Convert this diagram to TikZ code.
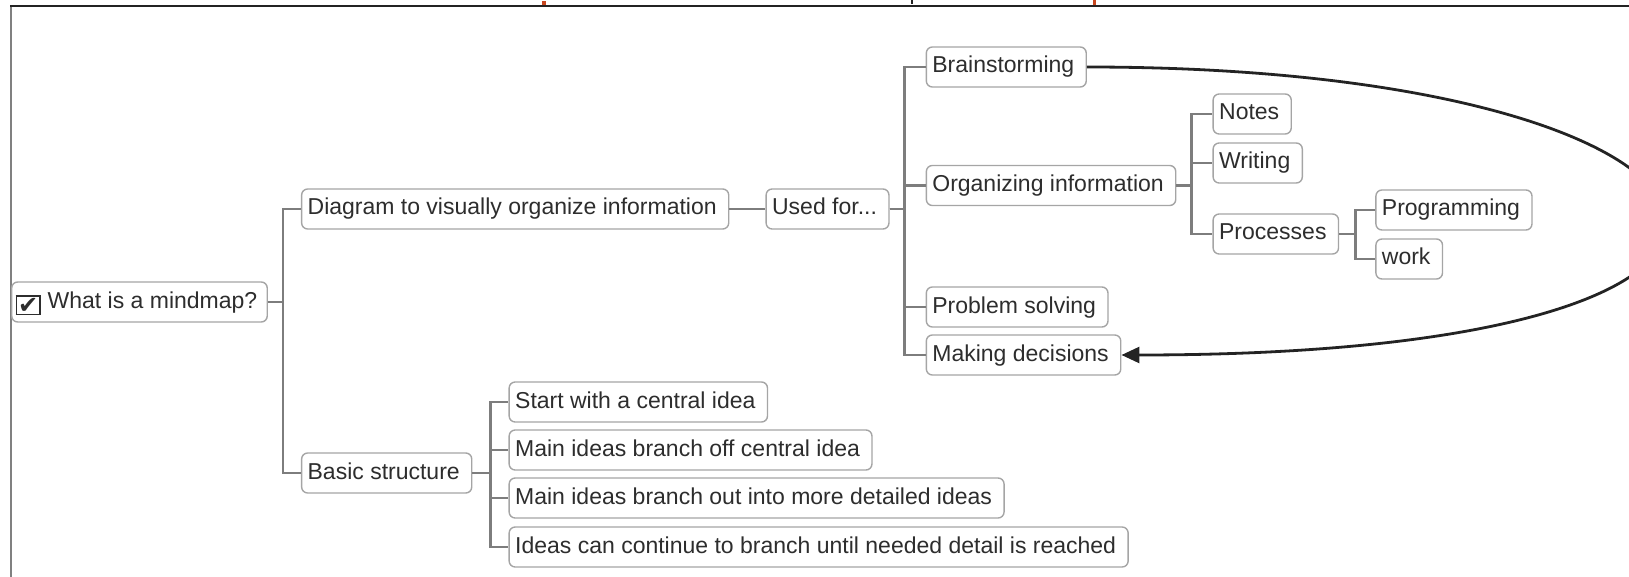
\documentclass[tikz,border=0pt]{standalone}
\usepackage{fontspec}
\setmainfont{Liberation Sans}
\newfontfamily\symfont{DejaVu Sans}
\usetikzlibrary{positioning,arrows.meta}

\definecolor{boxline}{RGB}{165,165,165}
\definecolor{branchgray}{RGB}{125,125,125}
\definecolor{textgray}{RGB}{45,45,45}
\definecolor{linkdark}{RGB}{35,35,35}
\definecolor{markred}{RGB}{200,70,30}

\begin{document}
\begin{tikzpicture}[x=1pt, y=-1pt,
  idea/.style = {draw=boxline, line width=1.4pt, rounded corners=6pt, fill=white,
    text=textgray, font=\fontsize{23}{26}\selectfont, inner xsep=6pt, inner ysep=0pt,
    minimum height=40pt, text height=17pt, text depth=5pt,
    execute at end node={\hspace{6pt}}},
  branch/.style = {draw=branchgray, line width=2.8pt},
  link/.style = {draw=linkdark, line width=2.8pt, -{Triangle[length=18pt,width=16pt]}}]
\useasboundingbox (0,0) rectangle (1629,577);

% frame and marks at the top
\draw[line width=2pt, color=gray] (11,577) -- (11,6);
\draw[line width=2pt, color=linkdark] (10,6) -- (1629,6);
\fill[markred] (542,1) rectangle (546,5);
\fill[linkdark] (911,0) rectangle (913,4);
\fill[markred] (1093,0) rectangle (1096,5);

% root
\node[idea, anchor=west, inner xsep=4pt] (root) at (11,302)
  {{\fboxsep=1pt\fboxrule=1.4pt\raisebox{-5pt}{\fbox{\fontsize{24}{24}\symfont\char"2714}}}\hspace{7pt}What is a mindmap?};

\node[idea] (diag) [right=33pt of root, yshift=93pt] {Diagram to visually organize information};
\node[idea] (basic) [right=33pt of root, yshift=-171pt] {Basic structure};
\node[idea] (used) [right=36pt of diag] {Used for...};

\node[idea] (brain) [right=36pt of used, yshift=142pt] {Brainstorming};
\node[idea] (org) [right=36pt of used, yshift=23.5pt] {Organizing information};
\node[idea] (prob) [right=36pt of used, yshift=-98pt] {Problem solving};
\node[idea] (dec) [right=36pt of used, yshift=-146pt] {Making decisions};

\node[idea] (notes) [right=36pt of org, yshift=71.5pt] {Notes};
\node[idea] (writ) [right=36pt of org, yshift=22.5pt] {Writing};
\node[idea] (proc) [right=36pt of org, yshift=-48.5pt] {Processes};

\node[idea] (prog) [right=36pt of proc, yshift=24pt] {Programming};
\node[idea] (work) [right=36pt of proc, yshift=-25pt] {work};

\node[idea] (start) [right=36pt of basic, yshift=71pt] {Start with a central idea};
\node[idea] (off) [right=36pt of basic, yshift=23pt] {Main ideas branch off central idea};
\node[idea] (out) [right=36pt of basic, yshift=-25pt] {Main ideas branch out into more detailed ideas};
\node[idea] (cont) [right=36pt of basic, yshift=-74pt] {Ideas can continue to branch until needed detail is reached};

% branches
\foreach \c in {diag,basic} \draw[branch] (root.east) -- ++(15pt,0) |- (\c.west);
\draw[branch] (diag) -- (used);
\foreach \c in {brain,org,prob,dec} \draw[branch] (used.east) -- ++(15pt,0) |- (\c.west);
\foreach \c in {notes,writ,proc} \draw[branch] (org.east) -- ++(15pt,0) |- (\c.west);
\foreach \c in {prog,work} \draw[branch] (proc.east) -- ++(16pt,0) |- (\c.west);
\foreach \c in {start,off,out,cont} \draw[branch] (basic.east) -- ++(18pt,0) |- (\c.west);

\draw[link] (brain.east) .. controls +(700,0) and +(790,0) .. (dec.east);
\end{tikzpicture}
\end{document}
